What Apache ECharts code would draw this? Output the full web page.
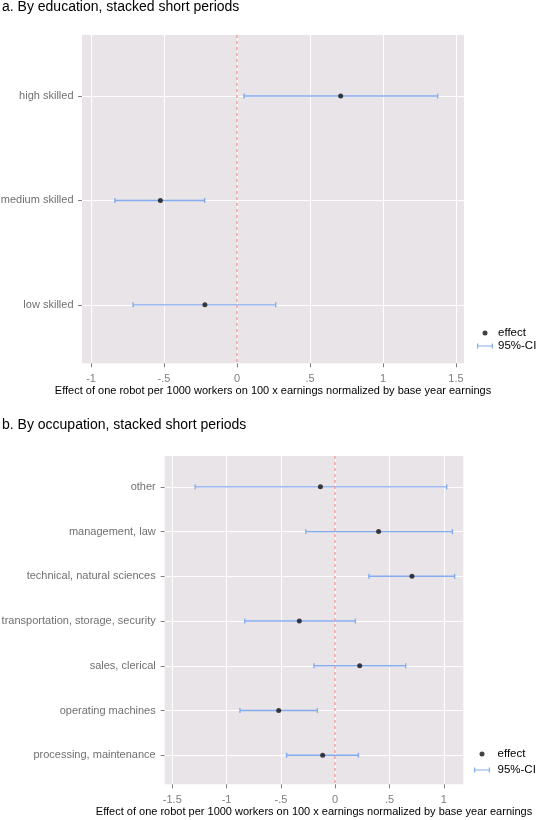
<!DOCTYPE html>
<html>
<head>
<meta charset="utf-8">
<script src="https://cdn.jsdelivr.net/npm/echarts@6/dist/echarts.min.js"></script>
<style>
  html, body { margin: 0; padding: 0; background: #fff; }
  #main { width: 540px; height: 820px; }
</style>
</head>
<body>
<div id="main"></div>
<script>
// panel a: by education
var eduCats = ['high skilled', 'medium skilled', 'low skilled'];
var eduEffect = [0.71, -0.525, -0.22];
var eduLow = [0.048, -0.837, -0.712];
var eduHigh = [1.375, -0.222, 0.265];

// panel b: by occupation
var occCats = ['other', 'management, law', 'technical, natural sciences',
  'transportation, storage, security', 'sales, clerical', 'operating machines',
  'processing, maintenance'];
var occEffect = [-0.136, 0.40, 0.707, -0.33, 0.226, -0.52, -0.115];
var occLow = [-1.29, -0.27, 0.31, -0.833, -0.195, -0.877, -0.447];
var occHigh = [1.027, 1.08, 1.10, 0.186, 0.649, -0.164, 0.214];

// x ticks
var ticksA = [-1, -0.5, 0, 0.5, 1, 1.5];
var tickLabelsA = ['-1', '-.5', '0', '.5', '1', '1.5'];
var ticksB = [-1.5, -1, -0.5, 0, 0.5, 1];
var tickLabelsB = ['-1.5', '-1', '-.5', '0', '.5', '1'];

var FONT = '"Liberation Sans", Arial, sans-serif';
var CI_COLOR = '#86acf0';
var AXIS_GREY = '#7f7f7f';
var xName = 'Effect of one robot per 1000 workers on 100 x earnings normalized by base year earnings';

function idx(arr) { return arr.map(function (d, i) { return i; }); }

function labelOf(ticks, labels) {
  return function (v) {
    for (var i = 0; i < ticks.length; i++) {
      if (Math.abs(ticks[i] - v) < 1e-9) return labels[i];
    }
    return '';
  };
}

function ciRender(params, api) {
  var y = api.value(2);
  var a = api.coord([api.value(0), y]);
  var b = api.coord([api.value(1), y]);
  var h = 2.5;
  var st = { stroke: CI_COLOR, lineWidth: 1.4 };
  return {
    type: 'group',
    children: [
      { type: 'line', shape: { x1: a[0], y1: a[1], x2: b[0], y2: b[1] }, style: st },
      { type: 'line', shape: { x1: a[0], y1: a[1] - h, x2: a[0], y2: a[1] + h }, style: st },
      { type: 'line', shape: { x1: b[0], y1: b[1] - h, x2: b[0], y2: b[1] + h }, style: st }
    ]
  };
}

function xAxisOf(gi, min, max, ticks, labels, gap) {
  return {
    type: 'value', gridIndex: gi, min: min, max: max,
    axisLine: { show: false, onZero: false },
    axisTick: { show: true, length: 4, customValues: ticks, lineStyle: { color: AXIS_GREY } },
    axisLabel: { customValues: ticks, formatter: labelOf(ticks, labels), margin: 10,
      color: AXIS_GREY, fontSize: 11, fontFamily: FONT },
    splitLine: { show: true, lineStyle: { color: '#fff', width: 1 } },
    name: xName, nameLocation: 'middle', nameGap: gap,
    nameTextStyle: { color: '#000', fontSize: 11, fontFamily: FONT }
  };
}

function yAxisOf(gi, cats, min, max, margin) {
  return {
    type: 'value', gridIndex: gi, inverse: true, min: min, max: max,
    axisLine: { show: false, onZero: false },
    axisTick: { show: true, length: 4, customValues: idx(cats), lineStyle: { color: AXIS_GREY } },
    axisLabel: { customValues: idx(cats), formatter: function (v) { return cats[v]; },
      margin: margin, color: '#707070', fontSize: 11, fontFamily: FONT },
    splitLine: { show: true, lineStyle: { color: '#fff', width: 1 } }
  };
}

function zeroLine() {
  return {
    silent: true, symbol: 'none', label: { show: false },
    lineStyle: { color: '#f3a0a0', type: [3, 3], width: 1.5, opacity: 1 },
    data: [{ xAxis: 0 }]
  };
}

var ciIcon = 'path://M0,0h1.2v5h-1.2zM0,1.9h16v1.2h-16zM14.8,0h1.2v5h-1.2z';

var gridBase = { show: true, backgroundColor: '#e8e4e8', borderWidth: 0,
  containLabel: false, outerBoundsMode: 'none' };

var option = {
  animation: false,
  textStyle: { fontFamily: FONT },
  title: [
    { text: 'a. By education, stacked short periods', left: 2, top: 0, padding: 0,
      textStyle: { fontSize: 14, fontWeight: 'normal', color: '#000', fontFamily: FONT } },
    { text: 'b. By occupation, stacked short periods', left: 2, top: 418, padding: 0,
      textStyle: { fontSize: 14, fontWeight: 'normal', color: '#000', fontFamily: FONT } }
  ],
  legend: [
    { left: 477, top: 327, orient: 'vertical', itemWidth: 16, itemHeight: 5, itemGap: 1,
      padding: 0, selectedMode: false,
      textStyle: { fontSize: 11.5, color: '#000', lineHeight: 12, fontFamily: FONT },
      data: [{ name: 'effect', icon: 'circle' }, { name: '95%-CI', icon: ciIcon }] },
    { left: 474, top: 748, orient: 'vertical', itemWidth: 21, itemHeight: 5, itemGap: 4,
      padding: 0, selectedMode: false,
      textStyle: { fontSize: 11.5, color: '#000', lineHeight: 12, fontFamily: FONT },
      data: [{ name: 'effect', icon: 'circle' }, { name: '95%-CI', icon: ciIcon }] }
  ],
  grid: [
    Object.assign({ left: 82, top: 35, width: 382, height: 328.3 }, gridBase),
    Object.assign({ left: 164.7, top: 456, width: 298.6, height: 328.3 }, gridBase)
  ],
  xAxis: [
    xAxisOf(0, -1.062, 1.555, ticksA, tickLabelsA, 22),
    xAxisOf(1, -1.57, 1.18, ticksB, tickLabelsB, 21)
  ],
  yAxis: [
    yAxisOf(0, eduCats, -0.585, 2.56, 8.5),
    yAxisOf(1, occCats, -0.69, 6.65, 9)
  ],
  series: [
    { name: '95%-CI', type: 'custom', xAxisIndex: 0, yAxisIndex: 0,
      itemStyle: { color: CI_COLOR }, renderItem: ciRender,
      encode: { x: [0, 1], y: 2 },
      data: eduCats.map(function (c, i) { return [eduLow[i], eduHigh[i], i]; }) },
    { name: 'effect', type: 'scatter', xAxisIndex: 0, yAxisIndex: 0,
      symbolSize: 5, itemStyle: { color: '#111' }, z: 3,
      data: eduCats.map(function (c, i) { return [eduEffect[i], i]; }),
      markLine: zeroLine() },
    { name: '95%-CI', type: 'custom', xAxisIndex: 1, yAxisIndex: 1,
      itemStyle: { color: CI_COLOR }, renderItem: ciRender,
      encode: { x: [0, 1], y: 2 },
      data: occCats.map(function (c, i) { return [occLow[i], occHigh[i], i]; }) },
    { name: 'effect', type: 'scatter', xAxisIndex: 1, yAxisIndex: 1,
      symbolSize: 5, itemStyle: { color: '#111' }, z: 3,
      data: occCats.map(function (c, i) { return [occEffect[i], i]; }),
      markLine: zeroLine() }
  ]
};

var myChart = echarts.init(document.getElementById('main'));
myChart.setOption(option);
</script>
</body>
</html>
